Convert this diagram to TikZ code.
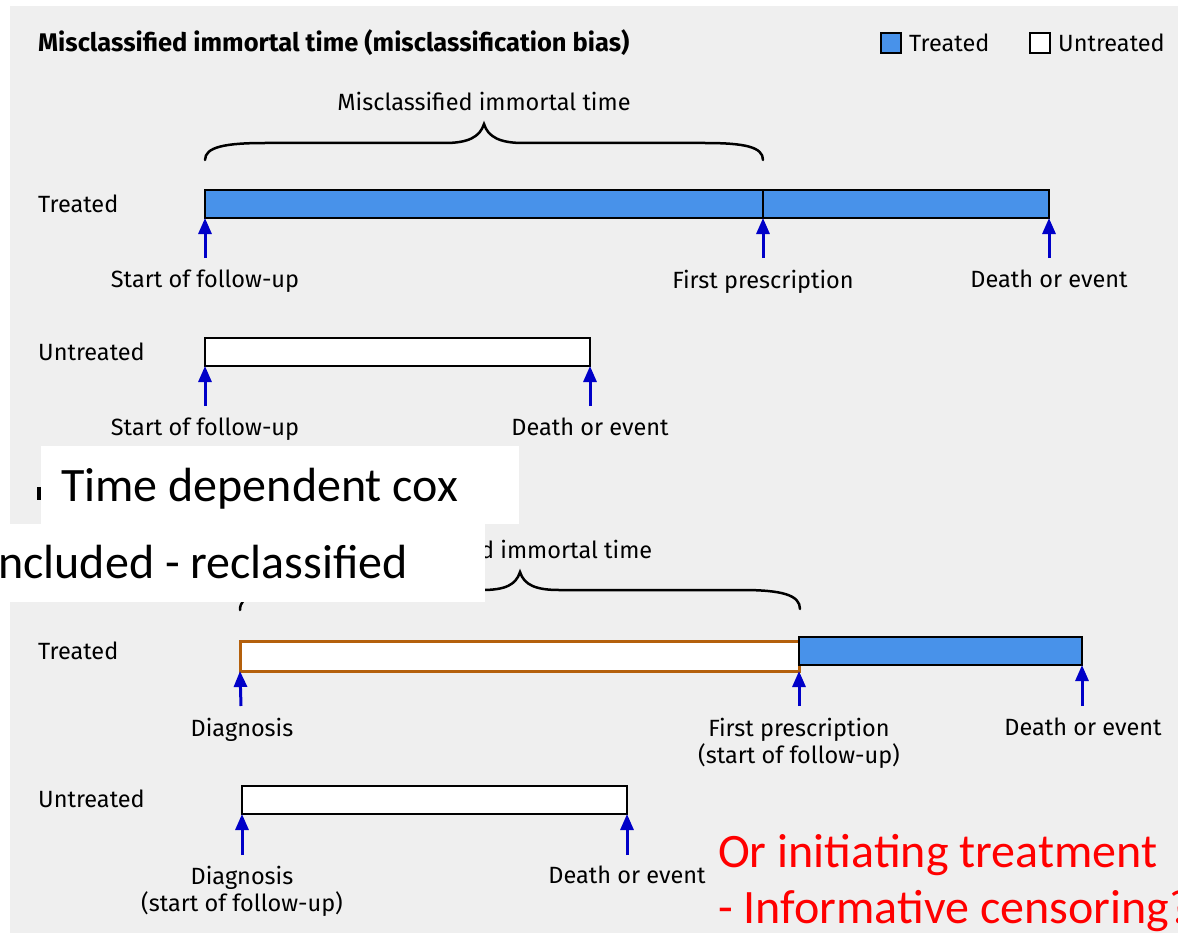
\documentclass[tikz,border=0pt]{standalone}
\usepackage{fontspec}
\setmainfont{Fira Sans}
\newfontfamily\calibrifont{Carlito}
\usepackage{tikz}
\usetikzlibrary{positioning}
\usetikzlibrary{arrows.meta}
\definecolor{pane_gray}{RGB}{239,239,239}
\definecolor{treat_blue}{RGB}{72,146,234}
\definecolor{arrow_blue}{RGB}{0,0,200}
\definecolor{immortal_brown}{RGB}{180,96,12}
\tikzstyle{row_label} = [anchor = base west, inner sep = 0, font = \fontsize{23.5}{27}\selectfont]
\tikzstyle{event_label} = [anchor = north, inner sep = 0, align = center, font = \fontsize{23.5}{27}\selectfont]
\tikzstyle{bar_box} = [draw, line width = 2.5pt, inner sep = 0, outer sep = 0, anchor = north west, minimum height = 28pt]
\tikzstyle{bar_treated} = [bar_box, fill = treat_blue]
\tikzstyle{bar_untreated} = [bar_box, fill = white]
\tikzstyle{bar_immortal} = [bar_box, fill = white, draw = immortal_brown, line width = 3pt]
\tikzstyle{event_arrow} = [arrow_blue, line width = 3pt, -{Triangle[length = 16pt, width = 13pt]}]
\tikzstyle{brace_line} = [line width = 2.5pt, line cap = round]
\tikzstyle{legend_box} = [draw, line width = 2pt, inner sep = 0, minimum size = 20pt]
\tikzstyle{cover_box} = [fill = white, draw = none]
\tikzstyle{slide_text} = [anchor = base west, inner sep = 0, font = \calibrifont\fontsize{48}{58}\selectfont]

\begin{document}
\begin{tikzpicture}[x = 1pt, y = -1pt]
        \useasboundingbox (0, 0) rectangle (1178, 939);
        \fill[pane_gray] (10, 6) rectangle (1178, 933);

        % heading and key
        \node[anchor = base west, inner sep = 0, font = \fontsize{25.5}{30}\selectfont\bfseries] (heading) at (38, 52) {Misclassified immortal time (misclassification bias)};
        \node[legend_box, fill = treat_blue] (key_treated) at (891, 43) {};
        \node[anchor = west, inner sep = 0, font = \fontsize{23.5}{27}\selectfont, right = 7pt of key_treated] (key_treated_text) {Treated};
        \node[legend_box, fill = white] (key_untreated) at (1040, 43) {};
        \node[anchor = west, inner sep = 0, font = \fontsize{23.5}{27}\selectfont, right = 7pt of key_untreated] (key_untreated_text) {Untreated};

        % upper panel
        \node[anchor = base, inner sep = 0, font = \fontsize{23.5}{27}\selectfont] (brace_top_text) at (484, 111) {Misclassified immortal time};
        \draw[brace_line] (205, 160) .. controls (205, 147) and (225, 143) .. (265, 143) -- (445, 143)
            .. controls (468, 143) and (480, 137) .. (484, 124) .. controls (488, 137) and (500, 143) .. (523, 143)
            -- (705, 143) .. controls (745, 143) and (763, 147) .. (763, 160);

        \node[row_label] (row_treated_top) at (38, 212) {Treated};
        \node[bar_treated, minimum width = 558pt] (bar_a_first) at (205, 190) {};
        \node[bar_treated, minimum width = 286pt] (bar_a_second) at (763, 190) {};
        \coordinate (tail_a_start) at (205, 258);
        \coordinate (tail_a_presc) at (763, 258);
        \coordinate (tail_a_death) at (1049, 258);
        \draw[event_arrow] (tail_a_start) -- (bar_a_first.south west);
        \draw[event_arrow] (tail_a_presc) -- (bar_a_second.south west);
        \draw[event_arrow] (tail_a_death) -- (bar_a_second.south east);
        \node[event_label] (ev_a_start) at (205, 270) {Start of follow-up};
        \node[event_label] (ev_a_presc) at (763, 270) {First prescription};
        \node[event_label] (ev_a_death) at (1049, 270) {Death or event};

        \node[row_label] (row_untreated_top) at (38, 360) {Untreated};
        \node[bar_untreated, minimum width = 385pt] (bar_b) at (205, 338) {};
        \coordinate (tail_b_start) at (205, 406);
        \coordinate (tail_b_death) at (590, 406);
        \draw[event_arrow] (tail_b_start) -- (bar_b.south west);
        \draw[event_arrow] (tail_b_death) -- (bar_b.south east);
        \node[event_label] (ev_b_start) at (205, 418) {Start of follow-up};
        \node[event_label] (ev_b_death) at (590, 418) {Death or event};

        % lower panel
        \node[anchor = base west, inner sep = 0, font = \fontsize{23.5}{27}\selectfont] (brace_low_text) at (480, 558) {d immortal time};
        \draw[brace_line] (240, 610) .. controls (240, 595) and (258, 590) .. (298, 590) -- (482, 590)
            .. controls (505, 590) and (516, 585) .. (520, 572) .. controls (524, 585) and (536, 590) .. (559, 590)
            -- (742, 590) .. controls (782, 590) and (800, 595) .. (800, 609);

        \node[row_label] (row_treated_low) at (38, 659) {Treated};
        \node[bar_immortal, minimum width = 559pt, minimum height = 30pt] (bar_c_first) at (240, 641) {};
        \node[bar_treated, minimum width = 283pt] (bar_c_second) at (799, 637) {};
        \coordinate (tail_c_diag) at (241, 706);
        \coordinate (tail_c_presc) at (799, 706);
        \coordinate (tail_c_death) at (1082, 706);
        \draw[event_arrow] (tail_c_diag) -- (bar_c_first.south west);
        \draw[event_arrow] (tail_c_presc) -- (bar_c_first.south east);
        \draw[event_arrow] (tail_c_death) -- (bar_c_second.south east);
        \node[event_label] (ev_c_diag) at (242, 718) {Diagnosis};
        \node[event_label] (ev_c_presc) at (799, 718) {First prescription\\(start of follow-up)};
        \node[event_label] (ev_c_death) at (1083, 718) {Death or event};

        \node[row_label] (row_untreated_low) at (38, 807) {Untreated};
        \node[bar_untreated, minimum width = 385pt] (bar_d) at (242, 786) {};
        \coordinate (tail_d_diag) at (242, 855);
        \coordinate (tail_d_death) at (627, 855);
        \draw[event_arrow] (tail_d_diag) -- (bar_d.south west);
        \draw[event_arrow] (tail_d_death) -- (bar_d.south east);
        \node[event_label] (ev_d_diag) at (242, 866) {Diagnosis\\(start of follow-up)};
        \node[event_label] (ev_d_death) at (627, 866) {Death or event};

        % slide overlays
        \fill (37, 487) rectangle (42, 500);
        \fill[cover_box] (41, 446) rectangle (519, 524);
        \fill[cover_box] (0, 524) rectangle (485, 602);
        \node[slide_text] (note_cox) at (61, 501) {Time dependent cox};
        \node[slide_text] (note_included) at (-2, 578) {ncluded - reclassified};
        \node[slide_text, text = red] (note_treat) at (718, 867) {Or initiating treatment};
        \node[slide_text, text = red] (note_censor) at (718, 923) {- Informative censoring?};
\end{tikzpicture}
\end{document}
